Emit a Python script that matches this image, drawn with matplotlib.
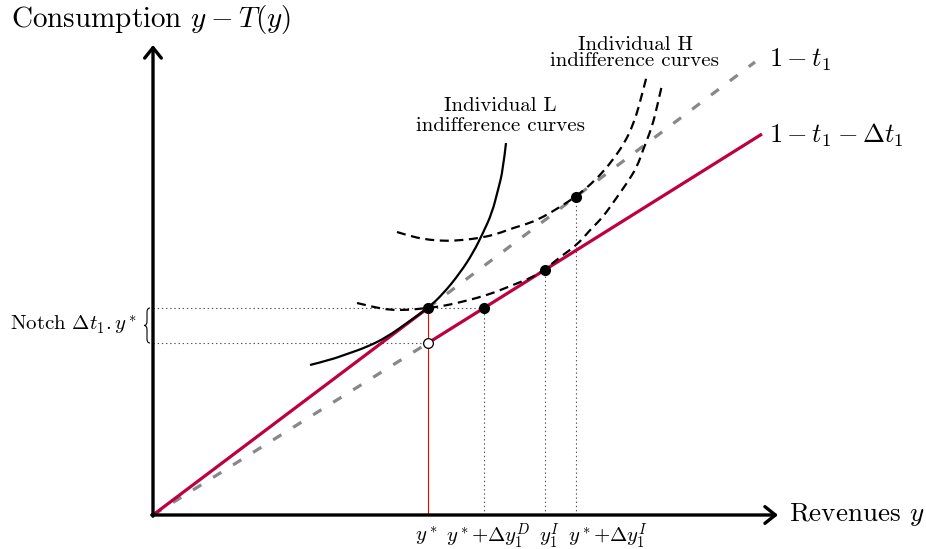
import numpy as np
import matplotlib
matplotlib.use("Agg")
import matplotlib.pyplot as plt
from matplotlib.path import Path
from matplotlib.patches import PathPatch

plt.rcParams['font.family'] = 'serif'
plt.rcParams['font.serif'] = ['cmr10']
plt.rcParams['mathtext.fontset'] = 'cm'
plt.rcParams['axes.unicode_minus'] = False
plt.rcParams['axes.formatter.use_mathtext'] = True
plt.rcParams['lines.scale_dashes'] = False

# budget lines (income y, consumption y - T(y))
red_x = [[0.0, 2.75], [2.75, 6.09]]
red_y = [[0.0, 2.07], [1.72, 3.81]]
gray_x = [[0.0, 2.75], [2.75, 6.02]]
gray_y = [[0.0, 1.72], [2.07, 4.53]]

# indifference curves
L_x = [1.57, 1.77, 1.94, 2.14, 2.34, 2.54, 2.75, 2.90, 3.07, 3.20, 3.30, 3.39, 3.45, 3.50, 3.53]
L_y = [1.50, 1.55, 1.61, 1.68, 1.78, 1.92, 2.07, 2.21, 2.42, 2.62, 2.82, 3.02, 3.25, 3.45, 3.72]
H1_x = [2.44, 2.60, 2.77, 2.94, 3.10, 3.27, 3.44, 3.60, 3.77, 3.90, 4.07, 4.23,
        4.37, 4.50, 4.62, 4.72, 4.80, 4.87, 4.94]
H1_y = [2.83, 2.78, 2.75, 2.74, 2.75, 2.77, 2.81, 2.87, 2.92, 2.98, 3.08, 3.185,
        3.30, 3.43, 3.58, 3.73, 3.90, 4.12, 4.40]
H2_x = [2.04, 2.20, 2.37, 2.54, 2.75, 2.90, 3.04, 3.24, 3.40, 3.60, 3.80, 3.92,
        4.07, 4.24, 4.37, 4.50, 4.62, 4.74, 4.84, 4.90, 4.99, 5.04, 5.09]
H2_y = [2.12, 2.08, 2.05, 2.05, 2.07, 2.09, 2.12, 2.17, 2.22, 2.30, 2.38, 2.455,
        2.58, 2.70, 2.85, 2.98, 3.15, 3.32, 3.48, 3.65, 3.88, 4.08, 4.30]

# marked points
dot_x = [2.75, 3.31, 3.92, 4.23]
dot_y = [2.07, 2.07, 2.455, 3.185]
open_x = [2.75]
open_y = [1.72]
tick_labels = ['$y^*$', '$y^*$+$\\Delta y_1^D$', '$y_1^I$', '$y^*$+$\\Delta y_1^I$']

RED = '#BF0040'


def smooth_path(xs, ys):
    pts = np.column_stack([xs, ys])
    verts = [pts[0]]
    codes = [Path.MOVETO]
    for i in range(1, len(pts) - 1):
        end = pts[-1] if i == len(pts) - 2 else (pts[i] + pts[i + 1]) / 2
        verts += [pts[i], end]
        codes += [Path.CURVE3, Path.CURVE3]
    return Path(verts, codes)


def brace(x0, ytop, ybot, w=0.06):
    ym = (ytop + ybot) / 2
    a = 0.04
    verts = [(x0, ytop), (x0 - w / 2, ytop), (x0 - w / 2, ytop - a),
             (x0 - w / 2, ym + a),
             (x0 - w / 2, ym), (x0 - w, ym),
             (x0 - w / 2, ym), (x0 - w / 2, ym - a),
             (x0 - w / 2, ybot + a),
             (x0 - w / 2, ybot), (x0, ybot)]
    codes = [Path.MOVETO, Path.CURVE3, Path.CURVE3, Path.LINETO,
             Path.CURVE3, Path.CURVE3, Path.CURVE3, Path.CURVE3,
             Path.LINETO, Path.CURVE3, Path.CURVE3]
    return Path(verts, codes)


fig = plt.figure(figsize=(9.26, 5.49), dpi=100)
ax = fig.add_axes([0, 0, 1, 1])
ax.set_xlim(-1.53, 7.73)
ax.set_ylim(-0.34, 5.15)
ax.axis('off')

# dotted guides
dot_style = dict(color='#555555', lw=0.8, ls=(0, (1, 2)), zorder=1)
ax.plot([0, dot_x[1]], [dot_y[0], dot_y[0]], **dot_style)
ax.plot([0, open_x[0]], [open_y[0], open_y[0]], **dot_style)
for xv, yv in zip(dot_x[1:], dot_y[1:]):
    ax.plot([xv, xv], [0, yv], **dot_style)
ax.plot([dot_x[0], dot_x[0]], [0, dot_y[0]], color='red', lw=0.8, zorder=2)

# budget lines
for xs, ys in zip(gray_x, gray_y):
    ax.plot(xs, ys, color='#888888', lw=2.3, ls=(0, (7, 10)), zorder=2)
for xs, ys in zip(red_x, red_y):
    ax.plot(xs, ys, color=RED, lw=2.3, solid_capstyle='butt', zorder=3)

# indifference curves
ax.add_patch(PathPatch(smooth_path(L_x, L_y), fill=False, ec='black', lw=1.6, zorder=4))
for cx, cy in [(H1_x, H1_y), (H2_x, H2_y)]:
    ax.add_patch(PathPatch(smooth_path(cx, cy), fill=False, ec='black', lw=1.6,
                           ls=(0, (6.5, 4)), zorder=4))

ax.plot(dot_x, dot_y, 'o', color='black', ms=7, zorder=6)
ax.plot(open_x, open_y, 'o', mfc='white', mec='black', mew=0.9, ms=7, zorder=6)

# axes with arrows
arrow = dict(arrowstyle='->,head_length=0.75,head_width=0.6', lw=2.4,
             color='black', shrinkA=0, shrinkB=0)
ax.annotate('', xy=(0, 4.70), xytext=(0, -0.012), arrowprops=arrow, zorder=5)
ax.annotate('', xy=(6.25, 0), xytext=(-0.012, 0), arrowprops=arrow, zorder=5)

ax.text(-0.02, 4.95, 'Consumption $y-T(y)$', fontsize=21, ha='center', va='center')
ax.text(6.36, 0.01, 'Revenues $y$', fontsize=19.5, ha='left', va='center')
ax.text(6.16, 4.55, '$1-t_1$', fontsize=19, ha='left', va='center')
ax.text(6.16, 3.80, '$1-t_1-\\Delta t_1$', fontsize=19, ha='left', va='center')
ax.text(4.82, 4.62, 'Individual H\nindifference curves', fontsize=15,
        ha='center', va='center', linespacing=0.85)
ax.text(3.47, 3.99, 'Individual L\nindifference curves', fontsize=15,
        ha='center', va='center', linespacing=1.2)

label_dx = [-0.02, 0.04, 0.04, 0.32]
for xv, lab, dx in zip(dot_x, tick_labels, label_dx):
    ax.text(xv + dx, -0.21, lab, fontsize=15, ha='center', va='center')

ax.add_patch(PathPatch(brace(-0.03, dot_y[0], open_y[0]), fill=False, ec='black', lw=0.8))
ax.text(-0.16, 1.90, 'Notch $\\Delta t_1 . y^*$', fontsize=15, ha='right', va='center')

fig.savefig('out.png', dpi=100)
